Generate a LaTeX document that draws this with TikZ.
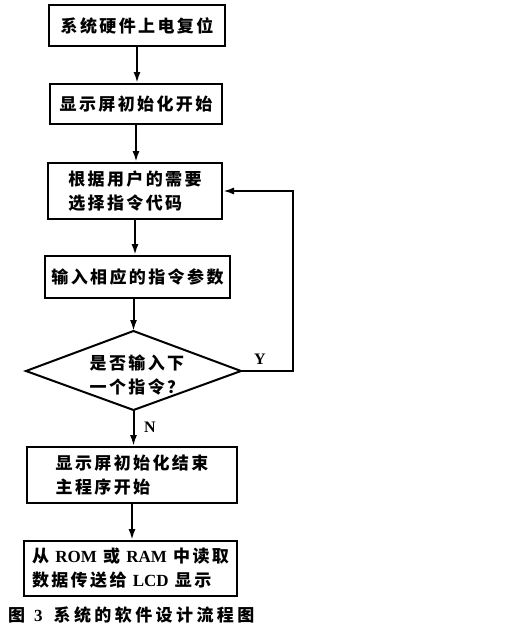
\documentclass[tikz,border=0pt]{standalone}
\usepackage{fontspec}
\setmainfont{Liberation Serif}
\newfontfamily\cjk[LetterSpace=14]{Noto Sans CJK SC}
\newfontfamily\cjkcap[LetterSpace=20]{Noto Sans CJK SC}
\usetikzlibrary{arrows.meta}
\newcommand{\lat}[1]{{\rmfamily\bfseries\fontsize{17}{18}\selectfont #1}}
\tikzset{
  box/.style={draw, line width=2pt, rectangle, inner sep=0pt, align=left,
    font=\cjk\bfseries\fontsize{17}{24}\selectfont},
  arr/.style={line width=2pt, -{Latex[length=11pt,width=7pt]}},
  lbl/.style={font=\rmfamily\bfseries\fontsize{16}{17}\selectfont, inner sep=0pt}
}
\begin{document}
\begin{tikzpicture}[x=1pt,y=-1pt]
\useasboundingbox[fill=white] (0,0) rectangle (512,634);
\node[box, minimum width=176, minimum height=41] (b1) at (137,25.5) {系统硬件上电复位};
\node[box, minimum width=172, minimum height=40] (b2) at (136,104) {显示屏初始化开始};
\node[box, minimum width=174, minimum height=56] (b3) at (135,191) {根据用户的需要\\选择指令代码};
\node[box, minimum width=185, minimum height=42] (b4) at (137.5,277) {输入相应的指令参数};
\coordinate (dt) at (133.5,331);
\coordinate (dl) at (26,371);
\coordinate (dr) at (241,371);
\coordinate (db) at (133.5,410);
\draw[line width=2pt, line join=miter] (dt) -- (dr) -- (db) -- (dl) -- cycle;
\node[font=\cjk\bfseries\fontsize{17}{24}\selectfont, align=left, inner sep=0pt] (dtext) at (137,375) {是否输入下\\一个指令？};
\node[box, minimum width=210, minimum height=56] (b5) at (132,475) {显示屏初始化结束\\主程序开始};
\node[box, minimum width=213, minimum height=55] (b6) at (130.5,568.5) {从 \lat{ROM} 或 \lat{RAM} 中读取\\数据传送给 \lat{LCD} 显示};
\node[lbl] (ly) at (260,359) {Y};
\node[lbl] (ln) at (150,427) {N};
\node[anchor=west, inner sep=0pt, font=\cjkcap\bfseries\fontsize{17}{18}\selectfont] (cap) at (8,615) {图\hspace*{9pt}\lat{3}\hspace*{11pt}系统的软件设计流程图};
\draw[arr] (b1.south) -- (b1.south |- b2.north);
\draw[arr] (b2.south) -- (b2.south |- b3.north);
\draw[arr] (b3.south) -- (b3.south |- b4.north);
\draw[arr] (b4.south -| dt) -- (dt);
\draw[arr] (db) -- (db |- b5.north);
\draw[arr] (b5.south) -- (b5.south |- b6.north);
\draw[arr] (dr) -- ++(52,0) |- (b3.east);
\end{tikzpicture}
\end{document}
